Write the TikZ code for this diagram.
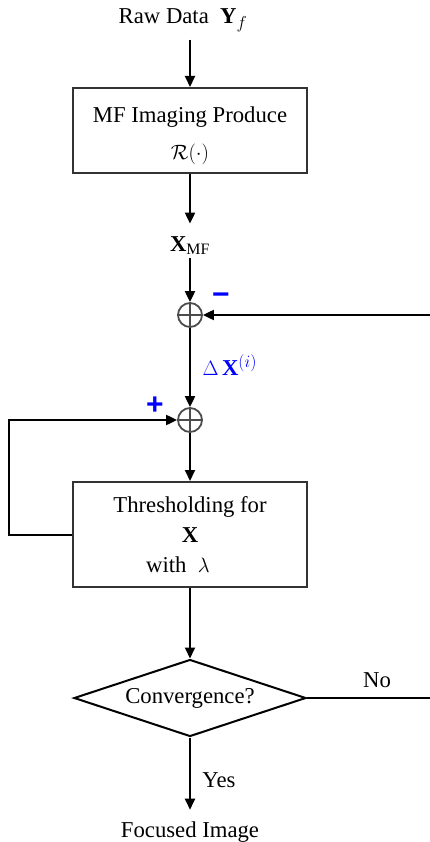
\documentclass[tikz,border=0pt]{standalone}
\usepackage{fontspec}
\setmainfont{Liberation Serif}
\setsansfont{Liberation Sans}
\usetikzlibrary{arrows.meta,shapes.geometric}
\begin{document}
\begin{tikzpicture}[x=1pt,y=-1pt,
  every node/.style={font=\fontsize{22.7}{30}\selectfont},
  conn/.style={line width=2pt, draw=black},
  arr/.style={conn,-{Triangle[length=11pt,width=10pt]}},
  procbox/.style={draw=black!80,line width=2pt,rectangle,minimum width=234pt,inner sep=0pt,align=center},
  sumnode/.style={circle,draw=black!70,line width=1.8pt,minimum size=24pt,inner sep=0pt,
    path picture={\draw[black!70,line width=1.8pt] (path picture bounding box.north) -- (path picture bounding box.south)
      (path picture bounding box.west) -- (path picture bounding box.east);}},
  signlabel/.style={text=blue,font=\sffamily\bfseries\fontsize{30}{30}\selectfont,inner sep=0pt},
  txt/.style={anchor=base},
]
\useasboundingbox (0,0) rectangle (429,842);

\node[txt] (raw) at (183,24) {Raw Data\ \ $\mathbf{Y}_f$};
\node[procbox, minimum height=85pt, font=\fontsize{22.7}{37}\selectfont] (mf) at (190,130.5) {\rule{0pt}{27pt}MF Imaging Produce\\$\mathcal{R}(\cdot)$};
\node[txt] (xmf) at (190,251) {$\mathbf{X}_{\mathrm{MF}}$};
\node[sumnode] (c1) at (190,315) {};
\node[sumnode] (c2) at (190,420) {};
\node[txt, anchor=base west, text=blue] (dx) at (199,375) {$\Delta\,\mathbf{X}^{(i)}$};
\node[signlabel] (minus) at (221,299) {−};
\node[signlabel] (plus) at (155,406) {+};
\node[procbox, minimum height=105pt, font=\fontsize{22.7}{30}\selectfont] (thr) at (190,534.5) {Thresholding for\\$\mathbf{X}$\\with\ \ $\lambda$\hspace*{24pt}};
\node[diamond, draw=black, line width=2pt, minimum width=232pt, minimum height=77pt, inner sep=0pt, aspect=3] (conv) at (190,698) {Convergence?};
\node[txt] (foc) at (190,837) {Focused Image};
\node[txt] (yes) at (219,787) {Yes};
\node[txt] (no) at (377,687) {No};

\coordinate (rx) at (432,698);
\coordinate (lx) at (9,536);

\draw[arr, shorten <=4pt] (raw.south -| mf.north) -- (mf.north);
\draw[arr, shorten >=9pt] (mf.south) -- (xmf.north);
\draw[arr] (xmf.south) -- (c1.north);
\draw[arr] (c1.south) -- (c2.north);
\draw[arr] (c2.south) -- (thr.north);
\draw[arr] (thr.south) -- (conv.north);
\draw[arr, shorten >=8pt] (conv.south) -- (foc.north);
\draw[arr] (conv.east) -- (rx) -- (rx |- c1) -- (c1.east);
\draw[arr] (thr.west) -- (thr.west -| lx) -- (lx |- c2) -- (c2.west);
\end{tikzpicture}
\end{document}
